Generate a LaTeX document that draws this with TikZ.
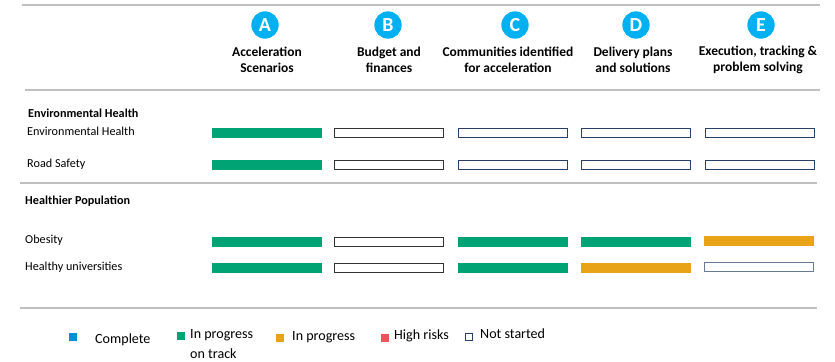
\documentclass[tikz,border=0pt]{standalone}
\usepackage{fontspec}
\setmainfont{Carlito}
\usetikzlibrary{positioning}
\definecolor{ontrack}{RGB}{0,163,116}
\definecolor{inprog}{RGB}{232,163,23}
\definecolor{complete}{RGB}{0,144,208}
\definecolor{highrisk}{RGB}{236,84,90}
\definecolor{letterblue}{RGB}{0,176,240}
\definecolor{navy}{RGB}{38,64,104}
\definecolor{rulegray}{RGB}{192,192,192}

\begin{document}
\begin{tikzpicture}[x=0.03cm, y=-0.03cm, every node/.style={inner sep=0pt, font=\fontsize{10.4}{12}\selectfont},
		bar/.style={minimum width=3.3cm, minimum height=0.28cm},
		ok/.style={bar, fill=ontrack},
		warn/.style={bar, fill=inprog},
		open/.style={bar, draw=navy, line width=0.8pt, minimum height=0.25cm, minimum width=3.28cm},
		openk/.style={open, draw=black!80},
		letterdot/.style={circle, fill=letterblue, minimum size=0.82cm, text=white, font=\fontsize{17}{17}\selectfont\bfseries},
		head/.style={align=center, font=\fontsize{11.5}{13.7}\selectfont\bfseries},
		group/.style={anchor=west, font=\fontsize{10.4}{12}\selectfont\bfseries},
		label/.style={anchor=west},
		keytext/.style={anchor=west, font=\fontsize{12}{14.5}\selectfont},
		key/.style={minimum size=0.26cm},
		rule/.style={draw=rulegray, line width=1.2pt}]
	\useasboundingbox (0,0) rectangle (835,361);
	% rules
	\coordinate (t1) at (22,5);   \coordinate (t2) at (820,5);
	\coordinate (h1) at (25,90);  \coordinate (h2) at (820,90);
	\coordinate (s1) at (20,183); \coordinate (s2) at (817,183);
	\coordinate (b1) at (20,308); \coordinate (b2) at (817,308);
	\draw[rule] (t1) -- (t2);
	\draw[rule] (h1) -- (h2);
	\draw[rule] (s1) -- (s2);
	\draw[rule] (b1) -- (b2);
	% stages
	\node[head] (ha) at (267,60) {Acceleration\\Scenarios};
	\node[head] (hb) at (389,60) {Budget and\\finances};
	\node[head] (hc) at (508,60) {Communities identified\\for acceleration};
	\node[head] (hd) at (633,60) {Delivery plans\\and solutions};
	\node[head] (he) at (758,60) {Execution, tracking \&\\problem solving};
	\node[letterdot] (la) at (265,25) {A};
	\node[letterdot] (lb) at (388,25) {B};
	\node[letterdot] (lc) at (515,25) {C};
	\node[letterdot] (ld) at (636,25) {D};
	\node[letterdot] (le) at (761,25) {E};
	% rows
	\node[group] (g1) at (28,113) {Environmental Health};
	\node[label] (n1) at (27,131) {Environmental Health};
	\node[label] (n2) at (27,164) {Road Safety};
	\node[group] (g2) at (25,201) {Healthier Population};
	\node[label] (n3) at (25,240) {Obesity};
	\node[label] (n4) at (25,267) {Healthy universities};
	\node[ok]    (e1) at (267,133) {};
	\node[openk] (e2) at (389,133) {};
	\node[open]  (e3) at (513,133) {};
	\node[open]  (e4) at (636,133) {};
	\node[open]  (e5) at (760,133) {};
	\node[ok]    (r1) at (267,165) {};
	\node[openk] (r2) at (389,165) {};
	\node[open]  (r3) at (513,165) {};
	\node[open]  (r4) at (636,165) {};
	\node[open]  (r5) at (760,165) {};
	\node[ok]    (o1) at (267,242) {};
	\node[openk] (o2) at (389,242) {};
	\node[ok]    (o3) at (513,242) {};
	\node[ok]    (o4) at (636,242) {};
	\node[warn]  (o5) at (759,241) {};
	\node[ok]    (u1) at (267,268) {};
	\node[openk] (u2) at (389,268) {};
	\node[ok]    (u3) at (513,268) {};
	\node[warn]  (u4) at (636,268) {};
	\node[open, draw=navy!70] (u5) at (759,267) {};
	% legend
	\node[key, fill=complete] (kc) at (73,337) {};
	\node[keytext] (tc) at (95,340) {Complete};
	\node[key, fill=ontrack] (kt) at (181,336) {};
	\node[keytext, align=left, font=\fontsize{12}{16.5}\selectfont] (tt) at (190,344) {In progress\\on track};
	\node[key, fill=inprog] (kp) at (280,338) {};
	\node[keytext] (tp) at (292,337) {In progress};
	\node[key, fill=highrisk] (kr) at (385,338) {};
	\node[keytext] (tr) at (394,336) {High risks};
	\node[key, draw=navy, line width=0.7pt, minimum size=0.22cm] (kn) at (469,337) {};
	\node[keytext] (tn) at (480,334) {Not started};
\end{tikzpicture}
\end{document}
